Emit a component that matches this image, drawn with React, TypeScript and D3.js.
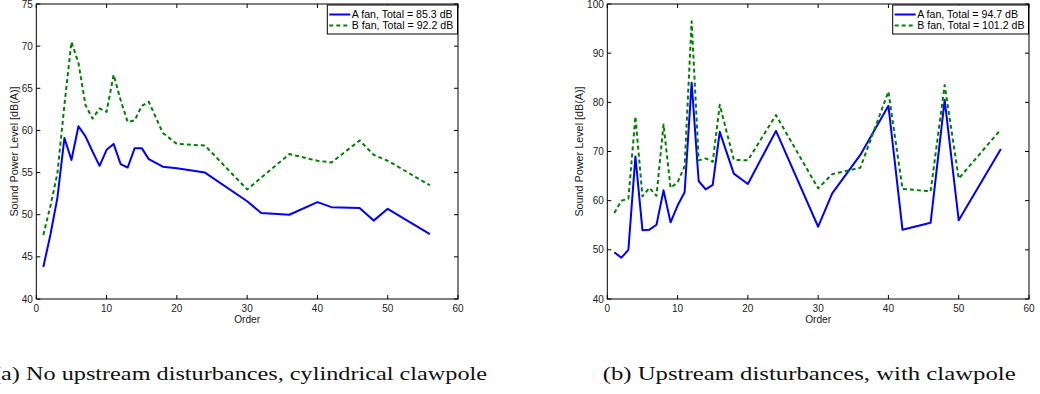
import React from "react";
import * as d3 from "d3";

const orders = [1, 2, 3, 4, 5, 6, 7, 8, 9, 10, 11, 12, 13, 14, 15, 16, 18, 20, 24, 30, 32, 36, 40, 42, 46, 48, 50, 56];

const aLeft = [43.8, 47.6, 52.0, 59.1, 56.5, 60.5, 59.3, 57.5, 55.8, 57.7, 58.4, 56.0, 55.6, 57.9, 57.9, 56.6, 55.7, 55.5, 55.0, 51.6, 50.2, 50.0, 51.5, 50.9, 50.8, 49.3, 50.7, 47.7];
const bLeft = [47.6, 51.0, 54.9, 63.0, 70.5, 68.0, 63.0, 61.4, 62.6, 62.2, 66.6, 63.6, 61.0, 61.2, 62.9, 63.4, 59.7, 58.4, 58.2, 53.0, 54.4, 57.2, 56.4, 56.2, 58.8, 57.1, 56.4, 53.5];

const aRight = [49.5, 48.4, 50.0, 69.0, 54.0, 54.1, 55.1, 62.1, 55.6, 59.0, 61.7, 84.0, 64.0, 62.3, 63.2, 74.0, 65.5, 63.4, 74.2, 54.7, 61.5, 69.3, 79.3, 54.1, 55.5, 80.5, 56.0, 70.5];
const bRight = [57.5, 60.0, 60.4, 77.1, 60.9, 62.6, 61.0, 75.5, 62.6, 63.7, 67.0, 96.5, 68.2, 68.6, 67.9, 79.5, 68.3, 68.2, 77.4, 62.5, 65.4, 66.7, 82.2, 62.4, 61.9, 83.5, 64.5, 74.5];

const xTicks = [0, 10, 20, 30, 40, 50, 60];
const yTicksLeft = [40, 45, 50, 55, 60, 65, 70, 75];
const yTicksRight = [40, 50, 60, 70, 80, 90, 100];

const legendLeft = ["A fan, Total = 85.3 dB", "B fan, Total = 92.2 dB"];
const legendRight = ["A fan, Total = 94.7 dB", "B fan, Total = 101.2 dB"];

const captionLeft = "(a) No upstream disturbances, cylindrical clawpole";
const captionRight = "(b) Upstream disturbances, with clawpole";

const FONT = "'Liberation Sans', Arial, Helvetica, sans-serif";
const BLUE = "#0000ff";
const GREEN = "#008000";

type PanelProps = {
  x0: number;
  x1: number;
  yDomain: [number, number];
  yTicks: number[];
  a: number[];
  b: number[];
  legend: string[];
  legendX: number;
  ylabelX: number;
};

function Panel({ x0, x1, yDomain, yTicks, a, b, legend, legendX, ylabelX }: PanelProps) {
  const top = 4;
  const bottom = 299;
  const xs = d3.scaleLinear().domain([0, 60]).range([x0, x1]);
  const ys = d3.scaleLinear().domain(yDomain).range([bottom, top]);
  const line = d3
    .line<number>()
    .x((_, i) => xs(orders[i]))
    .y((d) => ys(d));
  const tl = 4;
  const legTop = 5;
  const legBottom = 34;
  const rowY = [14.5, 25.5];
  return (
    <g>
      <path d={line(a) || ""} fill="none" stroke={BLUE} strokeWidth={2} strokeLinejoin="round" />
      <path d={line(b) || ""} fill="none" stroke={GREEN} strokeWidth={2} strokeDasharray="4,3" strokeLinejoin="round" />
      <rect x={x0} y={top} width={x1 - x0} height={bottom - top} fill="none" stroke="#000" strokeWidth={1} />
      {xTicks.map((t) => (
        <g key={"x" + t}>
          <line x1={xs(t)} x2={xs(t)} y1={bottom} y2={bottom - tl} stroke="#000" />
          <line x1={xs(t)} x2={xs(t)} y1={top} y2={top + tl} stroke="#000" />
          <text x={xs(t)} y={311.5} textAnchor="middle" fontSize={10} fontFamily={FONT} fill="#222">
            {t}
          </text>
        </g>
      ))}
      {yTicks.map((t) => (
        <g key={"y" + t}>
          <line x1={x0} x2={x0 + tl} y1={ys(t)} y2={ys(t)} stroke="#000" />
          <line x1={x1} x2={x1 - tl} y1={ys(t)} y2={ys(t)} stroke="#000" />
          <text x={x0 - 3.5} y={ys(t) + 3.6} textAnchor="end" fontSize={10} fontFamily={FONT} fill="#222">
            {t}
          </text>
        </g>
      ))}
      <text x={(x0 + x1) / 2} y={323} textAnchor="middle" fontSize={10.2} fontFamily={FONT} fill="#222">
        Order
      </text>
      <text
        transform={`translate(${ylabelX},${(top + bottom) / 2}) rotate(-90)`}
        textAnchor="middle"
        fontSize={10.8}
        fontFamily={FONT}
        fill="#222"
      >
        Sound Power Level [dB(A)]
      </text>
      <rect x={legendX} y={legTop} width={x1 - legendX - 0.5} height={legBottom - legTop} fill="#fff" stroke="#000" strokeWidth={1} />
      <line x1={legendX + 2} x2={legendX + 23} y1={rowY[0]} y2={rowY[0]} stroke={BLUE} strokeWidth={2} />
      <line x1={legendX + 2} x2={legendX + 23} y1={rowY[1]} y2={rowY[1]} stroke={GREEN} strokeWidth={2} strokeDasharray="4,3" />
      {legend.map((s, i) => (
        <text key={s} x={legendX + 24.5} y={rowY[i] + 3.8} fontSize={10.6} fontFamily={FONT} fill="#000">
          {s}
        </text>
      ))}
    </g>
  );
}

export default function App() {
  return (
    <svg width={1040} height={394} style={{ position: "absolute", left: 0, top: 0, background: "#fff" }}>
      <rect x={0} y={0} width={1040} height={394} fill="#fff" />
      <Panel x0={36.3} x1={458} yDomain={[40, 75]} yTicks={yTicksLeft} a={aLeft} b={bLeft} legend={legendLeft} legendX={327.3} ylabelX={17.5} />
      <Panel x0={607.3} x1={1029} yDomain={[40, 100]} yTicks={yTicksRight} a={aRight} b={bRight} legend={legendRight} legendX={892.7} ylabelX={582.5} />
      <text x={-7} y={380} fontSize={18.5} fontFamily="'Liberation Serif', 'Times New Roman', serif" textLength={494} lengthAdjust="spacingAndGlyphs" fill="#111">
        {captionLeft}
      </text>
      <text x={602.7} y={380} fontSize={18.5} fontFamily="'Liberation Serif', 'Times New Roman', serif" textLength={413} lengthAdjust="spacingAndGlyphs" fill="#111">
        {captionRight}
      </text>
    </svg>
  );
}
